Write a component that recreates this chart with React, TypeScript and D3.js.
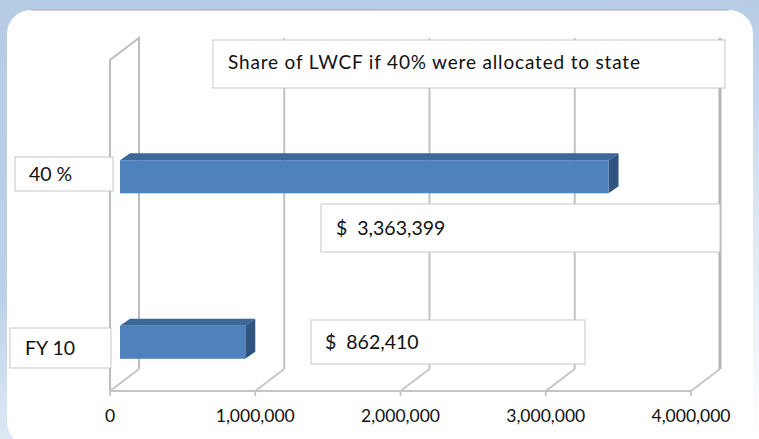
import React, { useEffect } from "react";
import * as d3 from "d3";

// chart values
const categories: string[] = ["40 %", "FY 10"];
const values: number[] = [3363399, 862410];
const valuePrefix: string[] = ["$  ", "$  "];
const tickValues: number[] = [0, 1000000, 2000000, 3000000, 4000000];
const title = "Share of LWCF if 40% were allocated to state";

const W = 759;
const H = 439;
const FONT = "Lato, 'Open Sans', sans-serif";

// 3d box: front plane and how far the back wall is shifted
const DX = 29;
const DY = -22;
const FRONT_TOP = 60;
const FLOOR = 391;
// bar front face sits a bit into the box
const BX = 10;
const BD = { x: 10, y: -7 };

const App: React.FC = () => {
  useEffect(() => {
    document.body.style.margin = "0";
  }, []);

  const x = d3.scaleLinear().domain([0, 4000000]).range([110, 691]);
  const y = d3
    .scaleBand<string>()
    .domain(categories)
    .range([94, 425])
    .paddingInner(0.8)
    .paddingOuter(0.4);
  const fmt = d3.format(",");

  // label boxes (category + data labels), placed like the excel ones
  const catBoxes = [
    { x: 15, y: 157, w: 98, h: 34, tx: 29 },
    { x: 10, y: 328, w: 101, h: 40, tx: 25 },
  ];
  const valBoxes = [
    { x: 321, y: 204, w: 399, h: 48, tx: 336 },
    { x: 311, y: 320, w: 274, h: 44, tx: 325 },
  ];

  return (
    <svg width={W} height={H} style={{ display: "block" }}>
      <defs>
        <linearGradient id="frame" x1="0" y1="0" x2="0.35" y2="1">
          <stop offset="0" stopColor="#b6cce5" />
          <stop offset="0.6" stopColor="#bcd1e8" />
          <stop offset="1" stopColor="#e9f0f8" />
        </linearGradient>
        <linearGradient id="rightfade" x1="0" y1="0" x2="0" y2="1">
          <stop offset="0" stopColor="#b6cce5" />
          <stop offset="0.5" stopColor="#dce7f3" />
          <stop offset="1" stopColor="#ffffff" />
        </linearGradient>
      </defs>
      <rect width={W} height={H} fill="url(#frame)" />
      <rect x={744} y={0} width={15} height={H} fill="url(#rightfade)" />
      <rect x={7} y={10} width={746} height={436} rx={24} fill="#ffffff" />
      <path d={`M31,10 H729`} stroke="#a6a6a6" strokeWidth={1.2} />

      {/* left wall */}
      <g fill="none" stroke="#bdbdbd" strokeWidth={2}>
        <path
          d={`M${x(0)},${FLOOR} V${FRONT_TOP} L${x(0) + DX},${FRONT_TOP + DY} V${FLOOR + DY}`}
        />
      </g>

      {/* back wall gridlines */}
      {tickValues.slice(1).map((t, i) => (
        <line
          key={"g" + t}
          x1={x(t) + DX}
          x2={x(t) + DX}
          y1={FRONT_TOP + DY}
          y2={FLOOR + DY}
          stroke={i === tickValues.length - 2 ? "#b4b4b4" : "#c2c2c2"}
          strokeWidth={i === tickValues.length - 2 ? 3 : 2}
        />
      ))}

      {/* floor */}
      <g stroke="#c4c4c4" strokeWidth={1.8} fill="none">
        {tickValues.map((t) => (
          <line key={"d" + t} x1={x(t)} y1={FLOOR} x2={x(t) + DX} y2={FLOOR + DY} />
        ))}
        <line x1={x(0)} x2={x(4000000)} y1={FLOOR} y2={FLOOR} />
        {tickValues.map((t) => (
          <line key={"t" + t} x1={x(t)} x2={x(t)} y1={FLOOR} y2={FLOOR + 5} />
        ))}
      </g>

      {/* tick labels */}
      {tickValues.map((t) => (
        <text
          key={"l" + t}
          x={x(t)}
          y={422}
          textAnchor="middle"
          fontFamily={FONT}
          fontSize={17.5}
          fill="#111"
        >
          {fmt(t)}
        </text>
      ))}

      {/* bars */}
      {categories.map((c, i) => {
        const x0 = x(0) + BX;
        const x1 = x(values[i]) + BX;
        const y0 = y(c) || 0;
        const h = y.bandwidth();
        return (
          <g key={"b" + c}>
            <path
              d={`M${x0},${y0} L${x0 + BD.x},${y0 + BD.y} H${x1 + BD.x} L${x1},${y0} Z`}
              fill="#3d6796"
            />
            <path
              d={`M${x1},${y0} L${x1 + BD.x},${y0 + BD.y} V${y0 + h + BD.y} L${x1},${y0 + h} Z`}
              fill="#2f5480"
            />
            <rect x={x0} y={y0} width={x1 - x0} height={h} fill="#4f81bd" />
          </g>
        );
      })}

      {/* title box */}
      <rect x={213} y={40} width={512} height={48} fill="#fff" stroke="#c6c6c6" />
      <text
        x={228}
        y={69}
        fontFamily={FONT}
        fontSize={19}
        fill="#111"
        textLength={412}
        lengthAdjust="spacing"
      >
        {title}
      </text>

      {/* category labels */}
      {categories.map((c, i) => {
        const b = catBoxes[i];
        return (
          <g key={"c" + c}>
            <rect x={b.x} y={b.y} width={b.w} height={b.h} fill="#fff" stroke="#c6c6c6" />
            <text
              x={b.tx}
              y={b.y + b.h / 2 + 7}
              fontFamily={FONT}
              fontSize={19.5}
              fill="#111"
              style={{ whiteSpace: "pre" }}
            >
              {c}
            </text>
          </g>
        );
      })}

      {/* value labels */}
      {values.map((v, i) => {
        const b = valBoxes[i];
        return (
          <g key={"v" + i}>
            <rect x={b.x} y={b.y} width={b.w} height={b.h} fill="#fff" stroke="#c6c6c6" />
            <text
              x={b.tx}
              y={b.y + b.h / 2 + 7}
              fontFamily={FONT}
              fontSize={19.5}
              fill="#111"
              style={{ whiteSpace: "pre" }}
            >
              {valuePrefix[i] + fmt(v)}
            </text>
          </g>
        );
      })}
    </svg>
  );
};

export default App;
